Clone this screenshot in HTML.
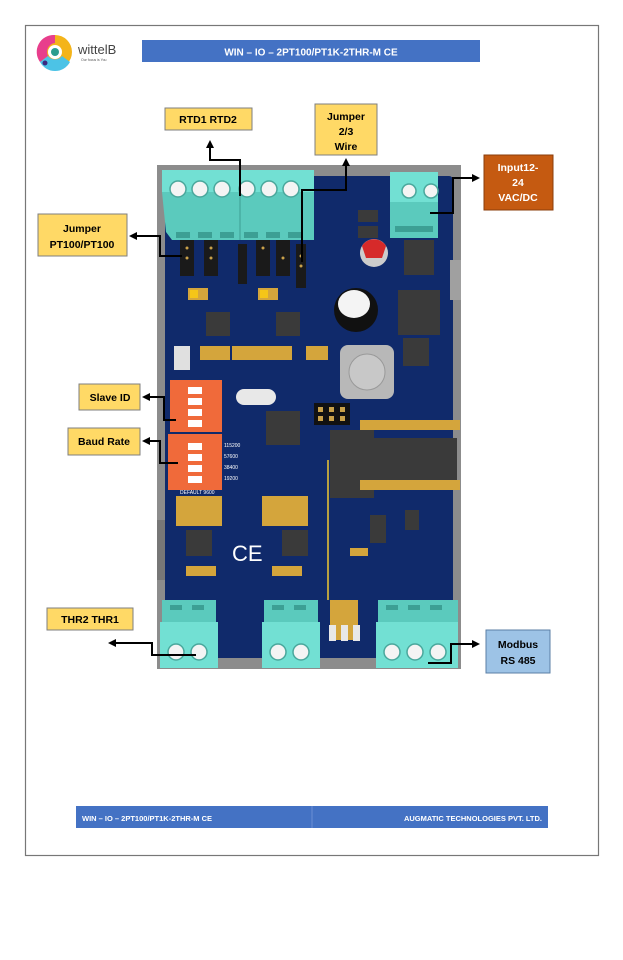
<!DOCTYPE html>
<html><head><meta charset="utf-8"><style>
html,body{margin:0;padding:0;background:#fff;}
svg{display:block;}
text{font-family:"Liberation Sans",sans-serif;}
</style></head><body>
<svg width="623" height="960" viewBox="0 0 623 960" xmlns="http://www.w3.org/2000/svg">
<defs>
<marker id="ar" markerWidth="8" markerHeight="8" refX="6" refY="4" orient="auto" markerUnits="userSpaceOnUse"><path d="M0,0 L8,4 L0,8 z" fill="#000"/></marker>
</defs>
<rect x="25.5" y="25.5" width="573" height="830" fill="#fff" stroke="#777" stroke-width="1.2"/>
<!-- logo -->
<circle cx="55" cy="52" r="17" fill="#f4b41a"/>
<path d="M55,35 A17,17 0 0 0 40,62 L48,56 A9,9 0 0 1 55,43 z" fill="#e83e8c"/>
<path d="M40,62 A17,17 0 0 0 70,62 L62,56 A9,9 0 0 1 48,56 z" fill="#4cc3e6"/>
<circle cx="55" cy="52" r="7" fill="#fff"/>
<circle cx="55" cy="52" r="4" fill="#2a9d8f"/>
<circle cx="45" cy="63" r="2.5" fill="#3a2a80"/>
<text x="78" y="54" font-size="13" fill="#444">wittelB</text>
<text x="81" y="61" font-size="3.5" fill="#555">Our focus is You</text>
<!-- title -->
<rect x="142" y="40" width="338" height="22" fill="#4472c4"/>
<text x="311" y="55.5" font-size="10" font-weight="bold" fill="#fff" text-anchor="middle">WIN – IO – 2PT100/PT1K-2THR-M CE</text>

<!-- PCB base -->
<rect x="157" y="165" width="304" height="504" fill="#8c8c8c"/>
<rect x="165" y="176" width="288" height="482" rx="4" fill="#102a6b"/>
<rect x="450" y="260" width="11" height="40" fill="#a0a0a0"/>
<rect x="157" y="520" width="8" height="60" fill="#777"/>
<!-- top terminal block -->
<rect x="162" y="170" width="152" height="22" fill="#72e0d3"/>
<polygon points="162,192 314,192 314,240 172,240 166,232" fill="#5bcabd"/>
<g fill="#f4f4f4" stroke="#4aa79c" stroke-width="1.5">
<circle cx="178" cy="189" r="8"/><circle cx="200" cy="189" r="8"/><circle cx="222" cy="189" r="8"/>
<circle cx="247" cy="189" r="8"/><circle cx="269" cy="189" r="8"/><circle cx="291" cy="189" r="8"/>
</g>
<g fill="#3c9f94"><rect x="176" y="232" width="14" height="6"/><rect x="198" y="232" width="14" height="6"/><rect x="220" y="232" width="14" height="6"/><rect x="244" y="232" width="14" height="6"/><rect x="266" y="232" width="14" height="6"/><rect x="288" y="232" width="14" height="6"/></g>
<line x1="240" y1="178" x2="240" y2="240" stroke="#3c9f94"/>
<!-- top right block -->
<rect x="390" y="172" width="48" height="30" fill="#72e0d3"/>
<rect x="390" y="202" width="48" height="36" fill="#5bcabd"/>
<g fill="#f4f4f4" stroke="#4aa79c" stroke-width="1.5"><circle cx="409" cy="191" r="7"/><circle cx="431" cy="191" r="7"/></g>
<rect x="395" y="226" width="38" height="6" fill="#3c9f94"/>
<!-- jumpers -->
<g fill="#1a1a1a">
<rect x="180" y="240" width="14" height="36"/><rect x="204" y="240" width="14" height="36"/>
<rect x="256" y="240" width="14" height="36"/><rect x="276" y="240" width="14" height="36"/>
<rect x="296" y="244" width="10" height="44"/><rect x="238" y="244" width="9" height="40"/>
</g>
<g fill="#c9a14a"><circle cx="187" cy="248" r="1.5"/><circle cx="187" cy="258" r="1.5"/><circle cx="211" cy="248" r="1.5"/><circle cx="211" cy="258" r="1.5"/><circle cx="263" cy="248" r="1.5"/><circle cx="283" cy="258" r="1.5"/><circle cx="301" cy="256" r="1.5"/><circle cx="301" cy="266" r="1.5"/></g>
<!-- small parts area -->
<g fill="#3a3a3a">
<rect x="358" y="210" width="20" height="12"/><rect x="358" y="226" width="20" height="12"/>
<rect x="404" y="240" width="30" height="35"/>
<rect x="398" y="290" width="42" height="45"/>
<rect x="403" y="338" width="26" height="28"/>
<rect x="206" y="312" width="24" height="24"/><rect x="276" y="312" width="24" height="24"/>
<rect x="266" y="411" width="34" height="34"/>
<rect x="330" y="430" width="44" height="68"/>
<rect x="373" y="438" width="42" height="42"/><rect x="415" y="438" width="42" height="42"/>
<rect x="186" y="530" width="26" height="26"/><rect x="282" y="530" width="26" height="26"/>
<rect x="370" y="515" width="16" height="28"/><rect x="405" y="510" width="14" height="20"/>
</g>
<g fill="#d4a53c">
<rect x="188" y="288" width="20" height="12"/><rect x="258" y="288" width="20" height="12"/>
<rect x="200" y="346" width="30" height="14"/><rect x="232" y="346" width="60" height="14"/><rect x="306" y="346" width="22" height="14"/>
<rect x="176" y="496" width="46" height="30"/><rect x="262" y="496" width="46" height="30"/>
<rect x="186" y="566" width="30" height="10"/><rect x="272" y="566" width="30" height="10"/>
<rect x="360" y="420" width="100" height="10"/><rect x="360" y="480" width="100" height="10"/>
<rect x="350" y="548" width="18" height="8"/>
<rect x="330" y="600" width="28" height="40"/>
</g>
<rect x="190" y="290" width="8" height="8" fill="#f5c518"/><rect x="260" y="290" width="8" height="8" fill="#f5c518"/>
<!-- capacitors -->
<circle cx="374" cy="253" r="14" fill="#ccc"/><path d="M362,246 A14,14 0 0 1 386,246 L382,258 L366,258z" fill="#d62a2a"/>
<circle cx="356" cy="310" r="22" fill="#111"/><ellipse cx="354" cy="304" rx="16" ry="14" fill="#f4f4f4"/>
<!-- inductor -->
<rect x="340" y="345" width="54" height="54" rx="8" fill="#b8b8b8"/><circle cx="367" cy="372" r="18" fill="#c8c8c8" stroke="#999"/>
<!-- crystal -->
<rect x="236" y="389" width="40" height="16" rx="8" fill="#e8e8e8"/>
<!-- button -->
<rect x="174" y="346" width="16" height="24" fill="#e0e0e0"/>
<!-- header -->
<rect x="314" y="403" width="36" height="22" fill="#111"/>
<g fill="#c9a14a"><rect x="318" y="407" width="5" height="5"/><rect x="329" y="407" width="5" height="5"/><rect x="340" y="407" width="5" height="5"/><rect x="318" y="416" width="5" height="5"/><rect x="329" y="416" width="5" height="5"/><rect x="340" y="416" width="5" height="5"/></g>
<!-- DIP switches -->
<rect x="170" y="380" width="52" height="52" fill="#f06a3a"/>
<rect x="168" y="434" width="54" height="56" fill="#f06a3a"/>
<g fill="#fff">
<rect x="188" y="387" width="14" height="7"/><rect x="188" y="398" width="14" height="7"/><rect x="188" y="409" width="14" height="7"/><rect x="188" y="420" width="14" height="7"/>
<rect x="188" y="443" width="14" height="7"/><rect x="188" y="454" width="14" height="7"/><rect x="188" y="465" width="14" height="7"/><rect x="188" y="476" width="14" height="7"/>
</g>
<g font-size="5" fill="#fff"><text x="224" y="447">115200</text><text x="224" y="458">57600</text><text x="224" y="469">38400</text><text x="224" y="480">19200</text><text x="180" y="494">DEFAULT 9600</text></g>
<!-- CE -->
<text x="232" y="561" font-size="22" fill="#fff">CE</text>
<line x1="328" y1="460" x2="328" y2="600" stroke="#b8a040" stroke-width="2"/>
<!-- bottom terminal blocks -->
<g>
<rect x="162" y="600" width="54" height="22" fill="#5bcabd"/><rect x="160" y="622" width="58" height="46" fill="#72e0d3"/>
<rect x="264" y="600" width="54" height="22" fill="#5bcabd"/><rect x="262" y="622" width="58" height="46" fill="#72e0d3"/>
<rect x="378" y="600" width="80" height="22" fill="#5bcabd"/><rect x="376" y="622" width="82" height="46" fill="#72e0d3"/>
</g>
<g fill="#3c9f94"><rect x="170" y="605" width="12" height="5"/><rect x="192" y="605" width="12" height="5"/><rect x="272" y="605" width="12" height="5"/><rect x="294" y="605" width="12" height="5"/><rect x="386" y="605" width="12" height="5"/><rect x="408" y="605" width="12" height="5"/><rect x="430" y="605" width="12" height="5"/></g>
<g fill="#f4f4f4" stroke="#4aa79c" stroke-width="1.5">
<circle cx="176" cy="652" r="8"/><circle cx="199" cy="652" r="8"/>
<circle cx="278" cy="652" r="8"/><circle cx="301" cy="652" r="8"/>
<circle cx="392" cy="652" r="8"/><circle cx="415" cy="652" r="8"/><circle cx="438" cy="652" r="8"/>
</g>
<g fill="#e8e8e8"><rect x="329" y="625" width="7" height="16"/><rect x="341" y="625" width="7" height="16"/><rect x="353" y="625" width="7" height="16"/></g>

<!-- connectors -->
<g fill="none" stroke="#000" stroke-width="2">
<polyline points="240,196 240,160 210,160 210,142" marker-end="url(#ar)"/>
<polyline points="302,262 302,190 346,190 346,160" marker-end="url(#ar)"/>
<polyline points="430,213 453,213 453,178 478,178" marker-end="url(#ar)"/>
<polyline points="182,256 160,256 160,236 131,236" marker-end="url(#ar)"/>
<polyline points="176,420 164,420 164,397 144,397" marker-end="url(#ar)"/>
<polyline points="178,463 160,463 160,441 144,441" marker-end="url(#ar)"/>
<polyline points="196,655 152,655 152,643 110,643" marker-end="url(#ar)"/>
<polyline points="428,663 451,663 451,644 478,644" marker-end="url(#ar)"/>
</g>

<!-- labels -->
<g stroke="#7f7f7f" stroke-width="1">
<rect x="165" y="108" width="87" height="22" fill="#ffd966"/>
<rect x="315" y="104" width="62" height="51" fill="#ffd966"/>
<rect x="484" y="155" width="69" height="55" fill="#c55a11" stroke="#8a3d0b"/>
<rect x="38" y="214" width="89" height="42" fill="#ffd966"/>
<rect x="79" y="384" width="61" height="26" fill="#ffd966"/>
<rect x="68" y="428" width="72" height="27" fill="#ffd966"/>
<rect x="47" y="608" width="86" height="22" fill="#ffd966"/>
<rect x="486" y="630" width="64" height="43" fill="#9dc3e6" stroke="#5b7fa6"/>
</g>
<g font-size="10.5" font-weight="bold" fill="#000" text-anchor="middle">
<text x="208" y="123">RTD1   RTD2</text>
<text x="346" y="120">Jumper</text><text x="346" y="135">2/3</text><text x="346" y="150">Wire</text>
<text x="518" y="171" fill="#fff">Input12-</text><text x="518" y="186" fill="#fff">24</text><text x="518" y="201" fill="#fff">VAC/DC</text>
<text x="82" y="232">Jumper</text><text x="82" y="248">PT100/PT100</text>
<text x="110" y="401">Slave ID</text>
<text x="104" y="445">Baud Rate</text>
<text x="90" y="623">THR2  THR1</text>
<text x="518" y="648">Modbus</text><text x="518" y="664">RS 485</text>
</g>

<!-- footer -->
<rect x="76" y="806" width="472" height="22" fill="#4472c4"/>
<line x1="312" y1="806" x2="312" y2="828" stroke="#6a8fd4"/>
<text x="82" y="821" font-size="7.5" font-weight="bold" fill="#fff">WIN – IO – 2PT100/PT1K-2THR-M CE</text>
<text x="542" y="821" font-size="7.5" font-weight="bold" fill="#fff" text-anchor="end">AUGMATIC TECHNOLOGIES PVT. LTD.</text>
</svg>
</body></html>
